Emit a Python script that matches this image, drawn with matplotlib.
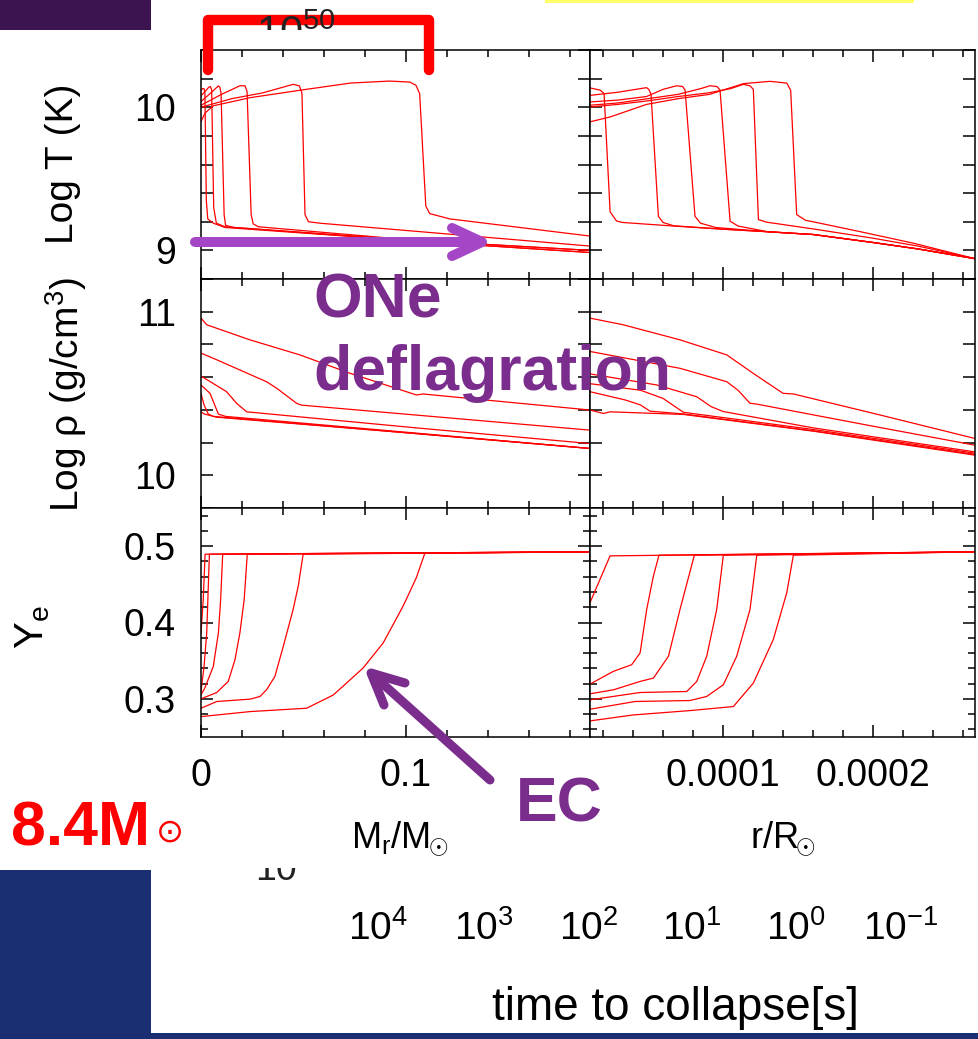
import matplotlib
matplotlib.use('Agg')
import matplotlib.pyplot as plt
from matplotlib.ticker import MultipleLocator, FixedLocator, FuncFormatter, FormatStrFormatter
from matplotlib.patches import Rectangle
from matplotlib.transforms import Bbox

plt.rcParams['font.family'] = ['Liberation Sans', 'DejaVu Sans']
plt.rcParams['mathtext.fontset'] = 'custom'
plt.rcParams['mathtext.rm'] = 'Liberation Sans'
plt.rcParams['mathtext.it'] = 'Liberation Sans:italic'
plt.rcParams['mathtext.bf'] = 'Liberation Sans:bold'

# ---- profiles, one list per snapshot (6 snapshots) ----
# Log T vs Mr/Msun
logT_mr_x = [
    [0, 0.0008, 0.0015, 0.0019, 0.0026, 0.0033, 0.006, 0.0117, 0.105, 0.19],
    [0, 0.002, 0.0038, 0.0046, 0.0052, 0.0062, 0.0075, 0.0117, 0.105, 0.19],
    [0, 0.004, 0.0085, 0.0092, 0.0098, 0.0113, 0.012, 0.016, 0.105, 0.19],
    [0, 0.01, 0.019, 0.0215, 0.0225, 0.0245, 0.0255, 0.028, 0.105, 0.19],
    [0, 0.015, 0.03, 0.045, 0.048, 0.0493, 0.0508, 0.0525, 0.058, 0.12, 0.19],
    [0, 0.002, 0.006, 0.024, 0.048, 0.073, 0.092, 0.102, 0.105, 0.1068, 0.1098, 0.1117, 0.1215, 0.19],
]
logT_mr_y = [
    [10.12, 10.13, 10.13, 10.10, 9.35, 9.22, 9.19, 9.16, 9.065, 8.985],
    [10.08, 10.11, 10.14, 10.145, 10.12, 9.30, 9.19, 9.165, 9.065, 8.985],
    [10.04, 10.09, 10.149, 10.14, 10.10, 9.25, 9.175, 9.16, 9.07, 9.0],
    [10.014, 10.09, 10.15, 10.15, 10.11, 9.25, 9.185, 9.165, 9.07, 9.0],
    [10.0, 10.06, 10.10, 10.16, 10.15, 10.10, 9.25, 9.20, 9.19, 9.115, 9.03],
    [9.90, 9.96, 10.01, 10.067, 10.118, 10.169, 10.183, 10.176, 10.153, 10.095, 9.31, 9.257, 9.22, 9.10],
]

# Log T vs r/Rsun
logT_r_x = [
    [1.13e-5, 1.8e-5, 2.07e-5, 2.47e-5, 2.9e-5, 3.3e-5, 6.7e-5, 1.0e-4, 1.3e-4, 1.6e-4, 2.0e-4, 2.3e-4, 2.68e-4],
    [1.13e-5, 3.0e-5, 4.9e-5, 5.05e-5, 5.2e-5, 5.69e-5, 6.0e-5, 6.7e-5, 1.0e-4, 1.3e-4, 1.6e-4, 2.0e-4, 2.3e-4, 2.68e-4],
    [1.13e-5, 3.0e-5, 4.9e-5, 6.0e-5, 6.9e-5, 7.3e-5, 7.47e-5, 8.13e-5, 8.5e-5, 9.5e-5, 1.3e-4, 1.6e-4, 2.0e-4, 2.3e-4, 2.68e-4],
    [1.13e-5, 3.0e-5, 5.0e-5, 7.0e-5, 8.5e-5, 9.13e-5, 9.6e-5, 9.8e-5, 1.047e-4, 1.1e-4, 1.3e-4, 1.6e-4, 2.0e-4, 2.3e-4, 2.68e-4],
    [1.13e-5, 3.0e-5, 5.0e-5, 7.0e-5, 9.0e-5, 1.05e-4, 1.136e-4, 1.18e-4, 1.202e-4, 1.236e-4, 1.291e-4, 1.6e-4, 2.0e-4, 2.3e-4, 2.68e-4],
    [1.13e-5, 2.5e-5, 4.9e-5, 7.0e-5, 9.1e-5, 1.136e-4, 1.313e-4, 1.425e-4, 1.451e-4, 1.491e-4, 1.55e-4, 1.6e-4, 1.94e-4, 2.27e-4, 2.68e-4],
]
logT_r_y = [
    [10.135, 10.12, 10.095, 9.27, 9.205, 9.195, 9.17, 9.148, 9.13, 9.111, 9.055, 9.01, 8.942],
    [10.083, 10.105, 10.137, 10.125, 10.09, 9.238, 9.195, 9.172, 9.148, 9.13, 9.111, 9.055, 9.01, 8.942],
    [10.037, 10.05, 10.075, 10.125, 10.15, 10.145, 10.12, 9.238, 9.19, 9.16, 9.13, 9.111, 9.055, 9.01, 8.942],
    [10.014, 10.03, 10.06, 10.09, 10.13, 10.15, 10.145, 10.12, 9.204, 9.17, 9.13, 9.111, 9.055, 9.01, 8.942],
    [10.002, 10.02, 10.045, 10.075, 10.10, 10.13, 10.16, 10.15, 10.125, 9.215, 9.197, 9.15, 9.085, 9.03, 8.942],
    [9.898, 9.933, 10.02, 10.06, 10.09, 10.165, 10.181, 10.169, 10.118, 9.25, 9.21, 9.20, 9.125, 9.05, 8.942],
]

# Log rho vs Mr/Msun
logrho_mr_x = [
    [0, 0.0015, 0.0077, 0.105, 0.19],
    [0, 0.0015, 0.0035, 0.006, 0.105, 0.19],
    [0, 0.0044, 0.0085, 0.012, 0.105, 0.19],
    [0, 0.0125, 0.0174, 0.0223, 0.105, 0.19],
    [0, 0.0077, 0.032, 0.037, 0.0467, 0.049, 0.19],
    [0, 0.0028, 0.0239, 0.0483, 0.0727, 0.1052, 0.1085, 0.19],
]
logrho_mr_y = [
    [10.388, 10.375, 10.355, 10.255, 10.164],
    [10.50, 10.43, 10.375, 10.36, 10.255, 10.164],
    [10.552, 10.501, 10.374, 10.36, 10.258, 10.164],
    [10.607, 10.511, 10.44, 10.388, 10.29, 10.194],
    [10.747, 10.706, 10.572, 10.532, 10.44, 10.429, 10.276],
    [10.961, 10.92, 10.828, 10.736, 10.624, 10.491, 10.497, 10.399],
]

# Log rho vs r/Rsun
logrho_r_x = [
    [1.13e-5, 2.02e-5, 2.47e-5, 7.36e-5, 1.6e-4, 2.68e-4],
    [1.13e-5, 3.5e-5, 4.5e-5, 5.13e-5, 7.36e-5, 1.6e-4, 2.68e-4],
    [1.13e-5, 4.5e-5, 6.0e-5, 6.8e-5, 7.36e-5, 1.6e-4, 2.68e-4],
    [1.13e-5, 5.6e-5, 8.25e-5, 9.2e-5, 1.0e-4, 1.6e-4, 2.68e-4],
    [1.13e-5, 7.13e-5, 1.025e-4, 1.1e-4, 1.18e-4, 1.22e-4, 2.0e-4, 2.68e-4],
    [1.13e-5, 3.35e-5, 7.13e-5, 1.025e-4, 1.2e-4, 1.4e-4, 1.47e-4, 2.05e-4, 2.68e-4],
]
logrho_r_y = [
    [10.399, 10.378, 10.388, 10.372, 10.27, 10.123],
    [10.511, 10.46, 10.43, 10.392, 10.375, 10.272, 10.128],
    [10.56, 10.52, 10.47, 10.42, 10.385, 10.28, 10.135],
    [10.62, 10.552, 10.48, 10.42, 10.39, 10.29, 10.143],
    [10.757, 10.654, 10.572, 10.52, 10.44, 10.436, 10.30, 10.184],
    [10.961, 10.92, 10.828, 10.736, 10.624, 10.501, 10.497, 10.368, 10.225],
]

# Ye vs Mr/Msun
ye_mr_x = [
    [0, 0.0011, 0.002, 0.19],
    [0, 0.0015, 0.0028, 0.0041, 0.19],
    [0, 0.002, 0.006, 0.0085, 0.0096, 0.0106, 0.19],
    [0, 0.0077, 0.0133, 0.0166, 0.019, 0.0211, 0.0226, 0.19],
    [0, 0.0077, 0.024, 0.0288, 0.032, 0.0361, 0.0402, 0.045, 0.0475, 0.0499, 0.19],
    [0, 0.024, 0.0516, 0.0646, 0.0792, 0.089, 0.0987, 0.1052, 0.1093, 0.19],
]
ye_mr_y = [
    [0.3864, 0.4303, 0.4895, 0.4926],
    [0.31, 0.3425, 0.3864, 0.4895, 0.4926],
    [0.305, 0.315, 0.3425, 0.3864, 0.4303, 0.4895, 0.4926],
    [0.300, 0.3083, 0.3228, 0.3513, 0.3864, 0.4303, 0.4895, 0.4926],
    [0.2877, 0.2965, 0.2996, 0.3031, 0.3118, 0.3294, 0.3689, 0.4171, 0.4478, 0.4895, 0.4926],
    [0.2767, 0.2833, 0.2877, 0.305, 0.3404, 0.3733, 0.4214, 0.4588, 0.4905, 0.4926],
]

# Ye vs r/Rsun
ye_r_x = [
    [1.13e-5, 2.47e-5, 2.68e-4],
    [1.13e-5, 2.69e-5, 3.91e-5, 4.47e-5, 4.91e-5, 5.36e-5, 5.73e-5, 2.68e-4],
    [1.13e-5, 2.69e-5, 4.47e-5, 5.36e-5, 6.36e-5, 7.13e-5, 8.09e-5, 2.68e-4],
    [1.13e-5, 4.47e-5, 7.58e-5, 8.25e-5, 8.91e-5, 9.58e-5, 1.002e-4, 2.68e-4],
    [1.13e-5, 4.13e-5, 7.8e-5, 8.91e-5, 1.002e-4, 1.091e-4, 1.18e-4, 1.225e-4, 2.68e-4],
    [1.13e-5, 4.02e-5, 7.8e-5, 1.069e-4, 1.202e-4, 1.335e-4, 1.425e-4, 1.469e-4, 2.68e-4],
]
ye_r_y = [
    [0.426, 0.4873, 0.4926],
    [0.3193, 0.336, 0.3447, 0.3601, 0.4171, 0.461, 0.4882, 0.4926],
    [0.3066, 0.3118, 0.3228, 0.3272, 0.3557, 0.4171, 0.4882, 0.4926],
    [0.2987, 0.3083, 0.3096, 0.3228, 0.3557, 0.4171, 0.4882, 0.4926],
    [0.2864, 0.2965, 0.2978, 0.3031, 0.3184, 0.3557, 0.4171, 0.4882, 0.4926],
    [0.2711, 0.2789, 0.2846, 0.2899, 0.3206, 0.3776, 0.4391, 0.4882, 0.4926],
]

mr_ticks = [0, 0.1]
mr_labels = ['0', '0.1']
r_ticks = [0.0001, 0.0002]
r_labels = ['0.0001', '0.0002']
time_labels = ['4', '3', '2', '1', '0', '-1']

W, H = 979, 1039
fig = plt.figure(figsize=(W / 100, H / 100), dpi=100)
fig.patch.set_facecolor('white')

cols = [(201, 590), (590, 975)]
rows = [(50, 279), (279, 508), (508, 737)]
ylims = [(8.8, 10.4), (9.8, 11.2), (0.25, 0.55)]
panels = [
    [(logT_mr_x, logT_mr_y), (logT_r_x, logT_r_y)],
    [(logrho_mr_x, logrho_mr_y), (logrho_r_x, logrho_r_y)],
    [(ye_mr_x, ye_mr_y), (ye_r_x, ye_r_y)],
]

int_only = FuncFormatter(lambda v, p: '%d' % round(v) if abs(v - round(v)) < 1e-6 else '')

for i, (y0, y1) in enumerate(rows):
    for j, (x0, x1) in enumerate(cols):
        ax = fig.add_axes([x0 / W, 1 - y1 / H, (x1 - x0) / W, (y1 - y0) / H])
        xs, ys = panels[i][j]
        for cx, cy in zip(xs, ys):
            ax.plot(cx, cy, color='red', lw=0.9)
        if j == 0:
            ax.set_xlim(0, 0.19)
            ax.xaxis.set_major_locator(FixedLocator(mr_ticks))
            ax.xaxis.set_minor_locator(MultipleLocator(0.02))
        else:
            ax.set_xlim(1.13e-5, 2.68e-4)
            ax.xaxis.set_major_locator(FixedLocator(r_ticks))
            ax.xaxis.set_minor_locator(MultipleLocator(0.00002))
        ax.set_ylim(*ylims[i])
        if i < 2:
            ax.yaxis.set_major_locator(MultipleLocator(0.2))
            ax.yaxis.set_major_formatter(int_only)
        else:
            ax.yaxis.set_major_locator(MultipleLocator(0.1))
            ax.yaxis.set_minor_locator(MultipleLocator(0.02))
            ax.yaxis.set_major_formatter(FormatStrFormatter('%.1f'))
        if i == 2:
            ax.set_xticklabels(mr_labels if j == 0 else r_labels)
        else:
            ax.tick_params(labelbottom=False)
        ax.tick_params(which='both', direction='in', top=True, right=True,
                       width=1.1, labelsize=27, colors='black')
        ax.tick_params(which='major', length=8.6)
        ax.tick_params(which='minor', length=5)
        ax.tick_params(axis='y', pad=18, labelleft=(j == 0))
        ax.tick_params(axis='x', pad=15)
        for s in ax.spines.values():
            s.set_linewidth(1.1)

# overlay in pixel coordinates for slide decorations
ov = fig.add_axes([0, 0, 1, 1], zorder=10)
ov.set_xlim(0, W)
ov.set_ylim(H, 0)
ov.axis('off')
ov.patch.set_alpha(0)

ov.add_patch(Rectangle((0, 0), 151, 30, color='#3b1450', lw=0))
ov.add_patch(Rectangle((0, 870), 151, H - 870, color='#1a2e72', lw=0))
ov.add_patch(Rectangle((0, 1033), W, 6, color='#1a2e72', lw=0))
ov.add_patch(Rectangle((545, 0), 369, 2.5, color='#ffff66', lw=0))

# partially hidden texts (covered by the chart image on the slide)
t = ov.text(296, 46, r'10$^\mathregular{50}$', fontsize=30, ha='center', va='baseline', color='#222222')
t.set_clip_box(Bbox.from_extents(0, H - 30, W, H - 8))
t.set_clip_on(True)
t = ov.text(276, 880, '10', fontsize=27, ha='center', va='baseline', color='#222222')
t.set_clip_box(Bbox.from_extents(0, 0, W, H - 868))
t.set_clip_on(True)

# axis labels
ov.text(63, 164, 'Log T (K)', fontsize=28, rotation=90, ha='center', va='center')
ov.text(66, 395, r'Log ρ (g/cm$^\mathregular{3}$)', fontsize=28, rotation=90, ha='center', va='center')
ov.text(33, 627, r'Y$_\mathregular{e}$', fontsize=29, rotation=90, ha='center', va='center')
ov.text(400, 848, r'M$_\mathregular{r}$/M$_{\!\!\odot}$', fontsize=26, ha='center', va='baseline')
ov.text(783, 848, r'r/R$_{\!\!\odot}$', fontsize=26, ha='center', va='baseline')

# time-to-collapse axis (behind the chart on the slide)
for xc, e in zip([378, 484, 589, 692, 796, 901], time_labels):
    ov.text(xc, 940, r'10$^\mathregular{%s}$' % e, fontsize=28, ha='center', va='baseline')
ov.text(675, 1020, 'time to collapse[s]', fontsize=33, ha='center', va='baseline')

# red bracket
ov.plot([208, 208, 429, 429], [70, 20, 20, 70], color='red', lw=7.5,
        solid_joinstyle='round', solid_capstyle='round')

# annotations
light = '#a546c6'
dark = '#7b2d8e'
ov.plot([195, 478], [242, 242], color=light, lw=7.2, solid_capstyle='round')
ov.plot([452, 482, 452], [228, 242, 256], color=light, lw=7.2,
        solid_capstyle='round', solid_joinstyle='round')
ov.plot([490, 374], [780, 676], color=dark, lw=6.5, solid_capstyle='round')
ov.plot([405, 371, 384], [683, 673, 705], color=dark, lw=6.5,
        solid_capstyle='round', solid_joinstyle='round')

ov.text(313, 317, 'ONe', fontsize=45, fontweight='bold', color=dark, ha='left', va='baseline')
ov.text(313, 390, 'deflagration', fontsize=45, fontweight='bold', color=dark, ha='left', va='baseline')
ov.text(516, 822, 'EC', fontsize=45, fontweight='bold', color=dark, ha='left', va='baseline')
ov.text(11, 845, '8.4M', fontsize=45, fontweight='bold', color='red', ha='left', va='baseline')
ov.text(170, 832, '⊙', fontsize=24, family='DejaVu Sans', color='red', ha='center', va='center')

fig.savefig('out.png', dpi=100)
